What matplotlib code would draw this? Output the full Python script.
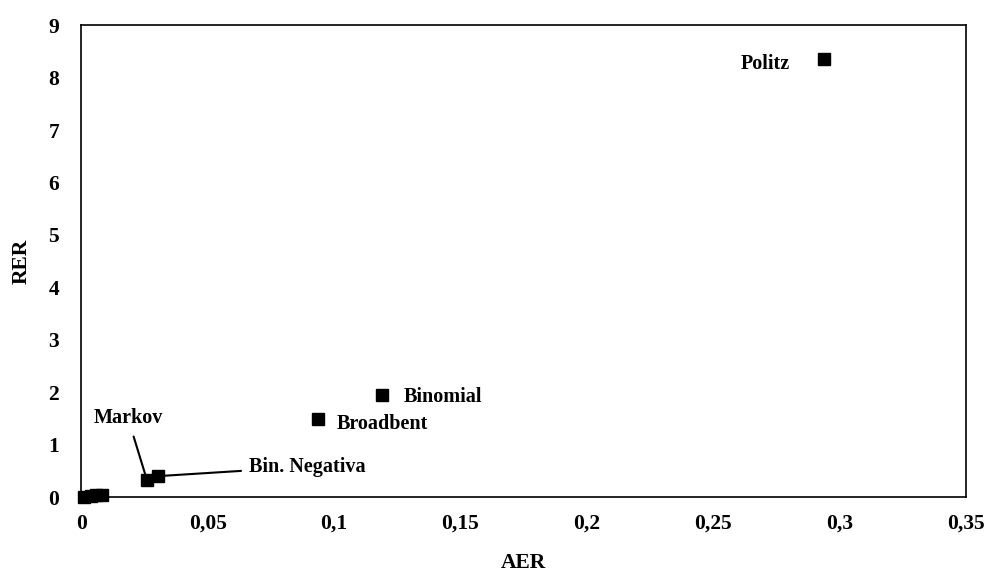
import matplotlib.pyplot as plt
from matplotlib.ticker import FuncFormatter

# data
aer = [0.001, 0.004, 0.006, 0.008, 0.026, 0.0305, 0.0935, 0.119, 0.294]
rer = [0.0, 0.02, 0.04, 0.04, 0.32, 0.40, 1.49, 1.95, 8.36]

# labels: (name, point index, text position, ha, leader line?)
labels = [
    ("Politz", 8, (0.2805, 8.26), "right", False),
    ("Binomial", 7, (0.1275, 1.91), "left", False),
    ("Broadbent", 6, (0.101, 1.39), "left", False),
    ("Markov", 4, (0.0185, 1.50), "center", True),
    ("Bin. Negativa", 5, (0.0665, 0.58), "left", True),
]

plt.rcParams['font.family'] = ['Liberation Serif', 'DejaVu Serif']
plt.rcParams['font.weight'] = 'bold'

fig = plt.figure(figsize=(10.04, 5.74), dpi=100)
ax = fig.add_axes([0.081, 0.134, 0.881, 0.822])
ax.plot(aer, rer, 's', color='black', markersize=8.5, clip_on=False, zorder=3)

for name, i, (tx, ty), ha, line in labels:
    if line:
        ax.annotate(name, (aer[i], rer[i]), xytext=(tx, ty), ha=ha, va='center',
                    fontsize=14.5, fontweight='bold',
                    arrowprops=dict(arrowstyle='-', color='black', lw=1.5,
                                    shrinkA=4, shrinkB=2))
    else:
        ax.text(tx, ty, name, ha=ha, va='center', fontsize=14.5, fontweight='bold')

ax.set_xlim(0, 0.35)
ax.set_ylim(0, 9)
ax.set_xticks([0, 0.05, 0.1, 0.15, 0.2, 0.25, 0.3, 0.35])
ax.set_yticks(range(10))
ax.xaxis.set_major_formatter(FuncFormatter(lambda v, p: ('%g' % round(v, 2)).replace('.', ',')))
ax.tick_params(length=0, labelsize=15.5)
ax.tick_params(axis='x', pad=12)
ax.tick_params(axis='y', pad=16)
for lab in ax.get_xticklabels() + ax.get_yticklabels():
    lab.set_fontweight('bold')
for s in ax.spines.values():
    s.set_linewidth(1.2)
ax.set_xlabel('AER', fontsize=15.5, fontweight='bold', labelpad=14)
ax.set_ylabel('RER', fontsize=15.5, fontweight='bold', labelpad=12)

fig.savefig('out.png', dpi=100)
